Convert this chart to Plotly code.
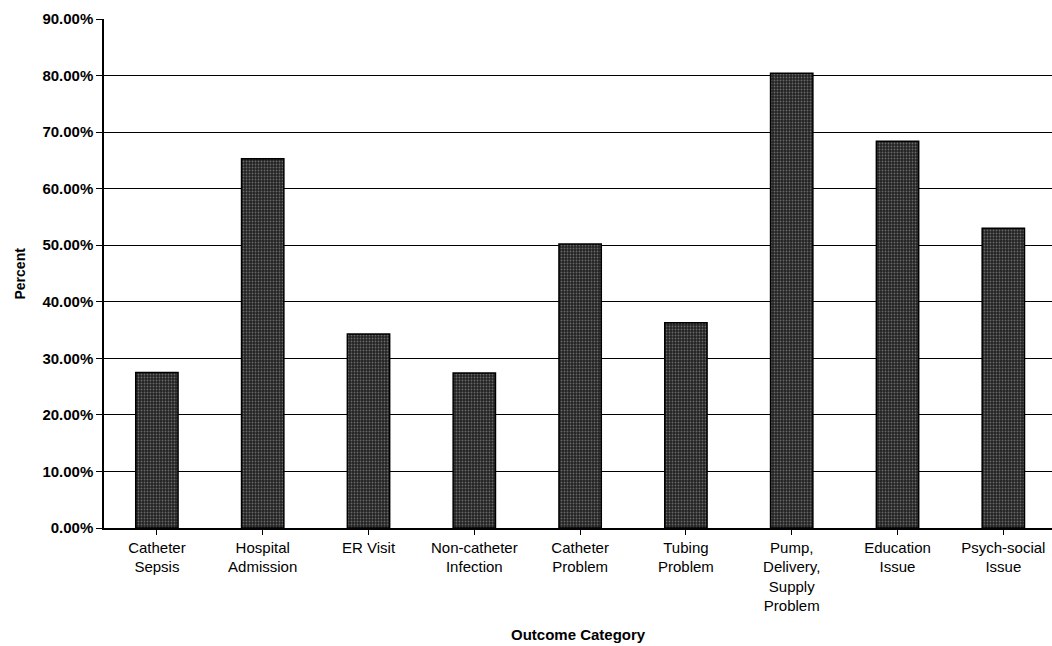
import plotly.graph_objects as go

# Outcome categories and the share of cases in each
categories = [
    "Catheter<br>Sepsis",
    "Hospital<br>Admission",
    "ER Visit",
    "Non-catheter<br>Infection",
    "Catheter<br>Problem",
    "Tubing<br>Problem",
    "Pump,<br>Delivery,<br>Supply<br>Problem",
    "Education<br>Issue",
    "Psych-social<br>Issue",
]
percent = [0.275, 0.653, 0.343, 0.274, 0.502, 0.363, 0.804, 0.684, 0.530]

y_ticks = [0.0, 0.1, 0.2, 0.3, 0.4, 0.5, 0.6, 0.7, 0.8, 0.9]
grid_ticks = [0.1, 0.2, 0.3, 0.4, 0.5, 0.6, 0.7, 0.8]
y_tick_labels = ["0.00%", "10.00%", "20.00%", "30.00%", "40.00%",
                 "50.00%", "60.00%", "70.00%", "80.00%", "90.00%"]

FONT = "Liberation Sans, Arial, sans-serif"

fig = go.Figure()
fig.add_trace(go.Bar(
    x=list(range(len(categories))),
    y=percent,
    marker=dict(
        color="#222222",
        line=dict(color="#000000", width=1.5),
        pattern=dict(shape=".", fgcolor="#b0b0b0", bgcolor="#222222",
                     size=3, solidity=0.3),
    ),
    width=0.4,
    yaxis="y",
    hoverinfo="skip",
))

fig.update_layout(
    width=1052,
    height=646,
    margin=dict(l=104, r=0, t=19, b=118),
    paper_bgcolor="white",
    plot_bgcolor="white",
    showlegend=False,
    font=dict(family=FONT, color="#000000", size=15),
    xaxis=dict(
        tickmode="array",
        tickvals=list(range(len(categories))),
        ticktext=categories,
        range=[-0.5, 8.46],
        showgrid=False,
        showline=True,
        linecolor="#000000",
        linewidth=1.5,
        ticks="outside",
        tickson="boundaries",
        ticklen=5,
        tickwidth=1.2,
        tickcolor="#000000",
        tickfont=dict(family=FONT, size=15, color="#000000"),
        zeroline=False,
    ),
    # gridlines only (no labels)
    yaxis=dict(
        range=[0, 0.9],
        tickmode="array",
        tickvals=grid_ticks,
        showticklabels=False,
        ticks="",
        showgrid=True,
        gridcolor="#000000",
        gridwidth=1.2,
        zeroline=False,
        showline=False,
    ),
    # labelled percent axis
    yaxis2=dict(
        overlaying="y",
        side="left",
        range=[0, 0.9],
        tickmode="array",
        tickvals=y_ticks,
        ticktext=y_tick_labels,
        showgrid=False,
        zeroline=False,
        showline=True,
        linecolor="#000000",
        linewidth=1.5,
        ticks="outside",
        ticklen=6,
        tickwidth=1.2,
        tickcolor="#000000",
        tickfont=dict(family=FONT, size=15, color="#000000", weight="bold"),
    ),
    annotations=[
        dict(text="<b>Percent</b>", xref="paper", yref="paper",
             x=0, y=0.5, xanchor="center", yanchor="middle",
             xshift=-85, textangle=-90, showarrow=False,
             font=dict(family=FONT, size=14, color="#000000")),
        dict(text="<b>Outcome Category</b>", xref="paper", yref="paper",
             x=0.5, y=0, xanchor="center", yanchor="middle",
             yshift=-106, showarrow=False,
             font=dict(family=FONT, size=15, color="#000000")),
    ],
)

# placeholder trace so the labelled axis is drawn
fig.add_trace(go.Scatter(x=[None], y=[None], yaxis="y2", showlegend=False,
                         hoverinfo="skip"))

fig.write_html("out.html")
